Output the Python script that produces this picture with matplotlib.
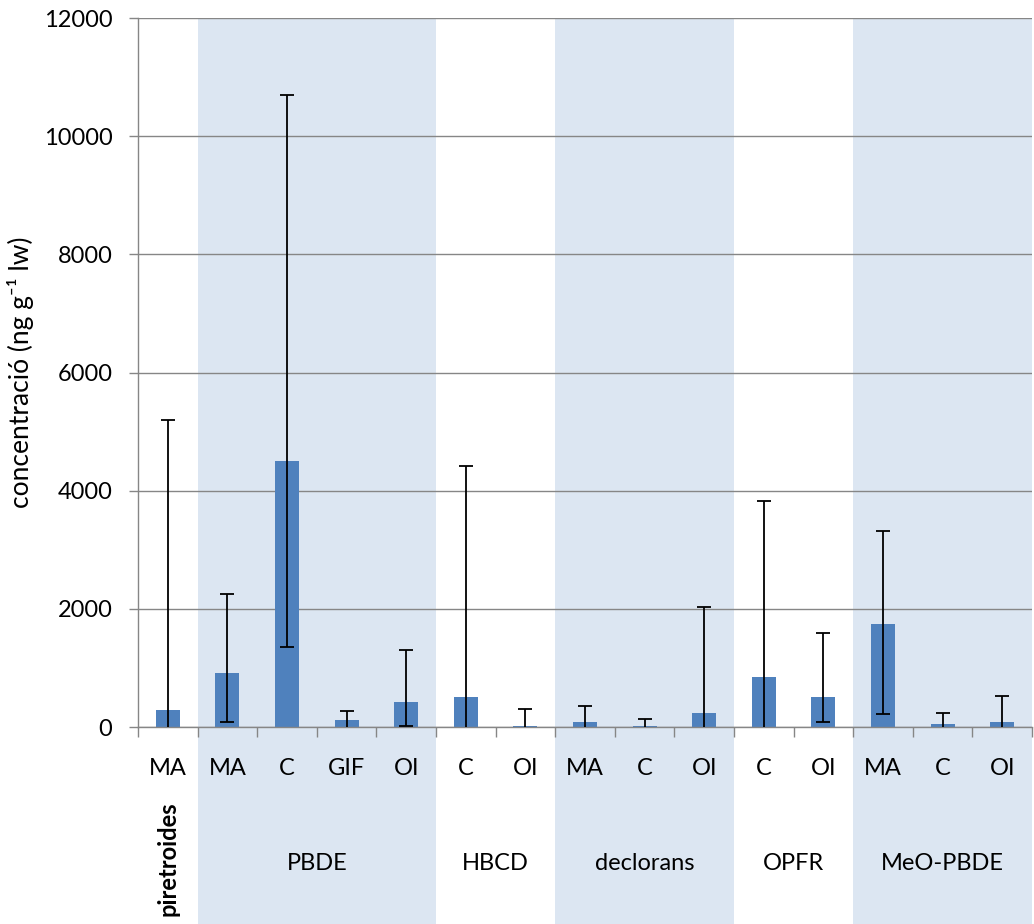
import matplotlib
matplotlib.use("Agg")
import matplotlib.pyplot as plt
import matplotlib.transforms as mtransforms
from matplotlib.patches import Rectangle
import numpy as np

plt.rcParams["font.family"] = ["Lato", "DejaVu Sans"]

# sample type under each bar, and the compound family each run of bars belongs to
samples = ["MA", "MA", "C", "GIF", "OI", "C", "OI", "MA", "C", "OI", "C", "OI", "MA", "C", "OI"]
families = ["piretroides", "PBDE", "HBCD", "declorans", "OPFR", "MeO-PBDE"]
family_sizes = [1, 4, 2, 3, 2, 3]
shaded_families = ["PBDE", "declorans", "MeO-PBDE"]

# concentrations (ng g-1 lw): central value plus lower / upper whisker ends
conc = [280, 920, 4500, 115, 415, 505, 20, 90, 25, 230, 850, 505, 1735, 45, 90]
conc_low = [-300, 80, 1350, -40, 20, -300, -100, -100, -50, -300, -300, 80, 215, -50, -100]
conc_high = [5200, 2250, 10700, 265, 1300, 4410, 310, 360, 130, 2030, 3820, 1590, 3310, 245, 520]

y_ticks = [0, 2000, 4000, 6000, 8000, 10000, 12000]

BAR_BLUE = "#4f81bd"
BAND = "#dce6f2"
GRID = "#868686"

fig = plt.figure(figsize=(10.34, 9.24), dpi=100)
ax = fig.add_axes([138 / 1034, 1 - 727 / 924, (1032 - 138) / 1034, (727 - 18) / 924])

x = np.arange(len(samples))
conc = np.array(conc)
yerr = [conc - np.array(conc_low), np.array(conc_high) - conc]

# shaded bands run from the top of the plot down past the category labels
blend = mtransforms.blended_transform_factory(ax.transData, ax.transAxes)
start = 0
centers = []
for fam, n in zip(families, family_sizes):
    lo, hi = start - 0.5, start + n - 0.5
    centers.append((lo + hi) / 2)
    if fam in shaded_families:
        ax.add_patch(Rectangle((lo, -0.4), hi - lo, 1.4, transform=blend,
                               facecolor=BAND, edgecolor="none", zorder=0,
                               clip_on=False))
    start += n

ax.bar(x, conc, width=0.4, color=BAR_BLUE, zorder=2)
ax.errorbar(x, conc, yerr=yerr, fmt="none", ecolor="black", elinewidth=1.3,
            capsize=5, capthick=1.3, zorder=3)

ax.set_xlim(-0.5, len(samples) - 0.5)
ax.set_ylim(0, 12000)
ax.set_yticks(y_ticks)
ax.set_yticklabels([str(v) for v in y_ticks])
ax.yaxis.grid(True, color=GRID, linewidth=1)
ax.set_axisbelow(True)

ax.set_xticks(x)
ax.set_xticklabels(samples)
ax.set_xticks(np.arange(-0.5, len(samples)), minor=True)
ax.tick_params(axis="x", which="major", length=0, pad=22, labelsize=17)
ax.tick_params(axis="x", which="minor", length=7, width=1, color=GRID)
ax.tick_params(axis="y", length=6.5, width=1, color=GRID, pad=12, labelsize=17)

for side in ("top", "right"):
    ax.spines[side].set_visible(False)
for side in ("left", "bottom"):
    ax.spines[side].set_color(GRID)
    ax.spines[side].set_linewidth(1)

fig.text(21 / 1034, 1 - 372 / 924, "concentració (ng g⁻¹ lw)", rotation=90,
         ha="center", va="center", fontsize=19)

# family names under the sample labels
for fam, cx in zip(families, centers):
    if fam == "piretroides":
        ax.text(cx, -0.186, fam, transform=blend, rotation=90, ha="center",
                va="center", fontsize=17, fontweight="bold")
    else:
        ax.text(cx, -0.192, fam, transform=blend, ha="center", va="center",
                fontsize=17)

fig.savefig("out.png", dpi=100)
